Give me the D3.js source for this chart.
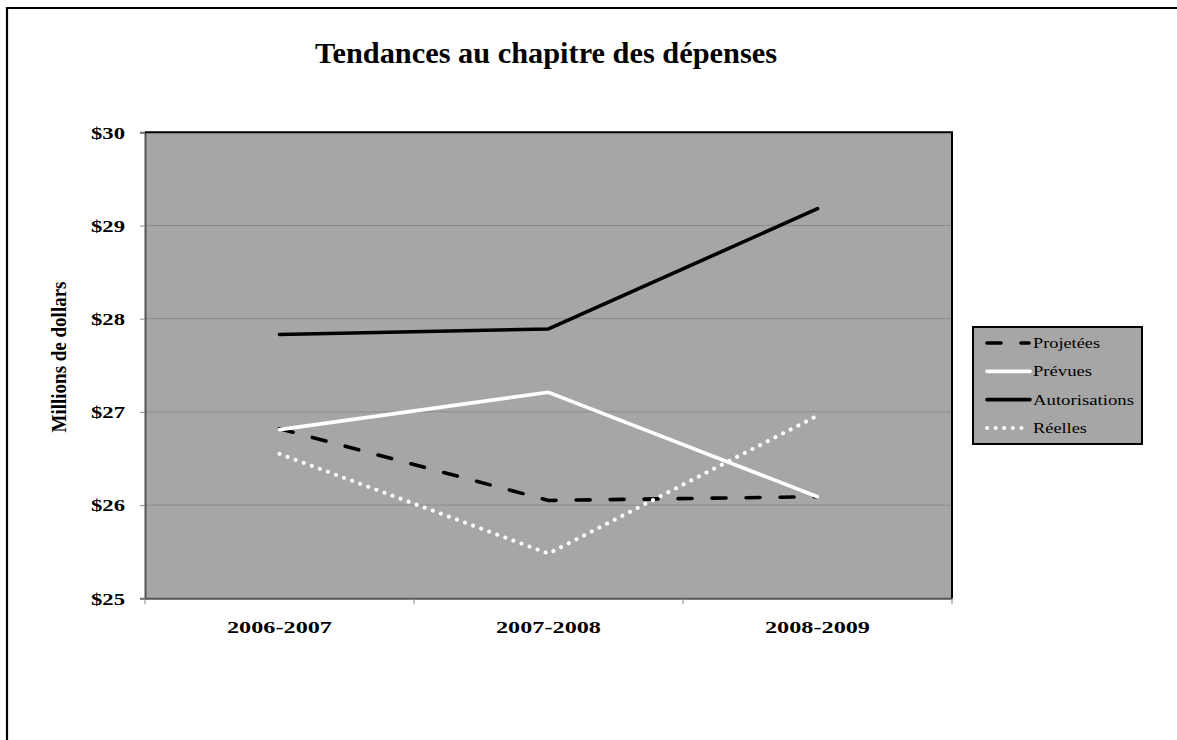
<!DOCTYPE html>
<html><head><meta charset="utf-8">
<script src="https://cdn.jsdelivr.net/npm/d3@7"></script>
<style>html,body{margin:0;padding:0;background:#fff;}svg{display:block;}</style>
</head><body>
<svg id="chart" width="1177" height="740"></svg>
<script>
const categories = ["2006-2007", "2007-2008", "2008-2009"];
const projetees = [26.82, 26.05, 26.09];
const prevues = [26.81, 27.21, 26.09];
const autorisations = [27.83, 27.89, 29.18];
const reelles = [26.55, 25.48, 26.96];
const yTicks = [25, 26, 27, 28, 29, 30];
const seriesNames = ["Projetées", "Prévues", "Autorisations", "Réelles"];
const titleText = "Tendances au chapitre des dépenses";
const yAxisTitle = "Millions de dollars";

const serif = "'Liberation Serif', 'Times New Roman', serif";
const svg = d3.select("#chart");
const W = 1177, H = 740;
const plot = {left: 145, right: 952, top: 132.3, bottom: 598.3};

// outer frame (left and top visible)
svg.append("path").attr("d", `M7,${H+5} L7,8 L${W+5},8`).attr("fill","none").attr("stroke","#000").attr("stroke-width",2.2);

const x = d3.scalePoint().domain(categories).range([plot.left, plot.right]).padding(0.5);
const xb = d3.scaleBand().domain(categories).range([plot.left, plot.right]);
const y = d3.scaleLinear().domain([25, 30]).range([plot.bottom, plot.top]);

// plot background
svg.append("rect").attr("x", plot.left).attr("y", plot.top)
  .attr("width", plot.right - plot.left).attr("height", plot.bottom - plot.top)
  .attr("fill", "#a6a6a6");

// gridlines
svg.append("g").selectAll("line").data(yTicks.filter(t => t > 25 && t < 30)).join("line")
  .attr("x1", plot.left).attr("x2", plot.right)
  .attr("y1", d => y(d)).attr("y2", d => y(d))
  .attr("stroke", "#8a8a8a").attr("stroke-width", 1);

// y axis
const yAxis = d3.axisLeft(y).tickValues(yTicks).tickSize(5).tickFormat(d => "$" + d);
const gy = svg.append("g").attr("transform", `translate(${plot.left},0)`).call(yAxis);
gy.select(".domain").attr("stroke", "#555").attr("stroke-width", 2);
gy.selectAll(".tick line").attr("stroke", "#888");
gy.selectAll(".tick text").attr("font-family", serif).attr("font-weight", "bold")
  .attr("font-size", 16).attr("fill", "#000").attr("x", -20).attr("dy", "0.36em")
  .attr("textLength", 34).attr("lengthAdjust", "spacingAndGlyphs");

// x axis with ticks at band boundaries
const xAxis = d3.axisBottom(xb).tickSize(0).tickSizeOuter(0).tickFormat("");
const gx = svg.append("g").attr("transform", `translate(0,${plot.bottom})`).call(xAxis);
gx.select(".domain").attr("stroke", "#555").attr("stroke-width", 2);
const bounds = categories.map(c => xb(c)).concat([plot.right]);
svg.append("g").selectAll("line").data(bounds).join("line")
  .attr("x1", d => d).attr("x2", d => d)
  .attr("y1", plot.bottom).attr("y2", plot.bottom + 6)
  .attr("stroke", "#888").attr("stroke-width", 1);
svg.append("g").selectAll("text").data(categories).join("text")
  .attr("x", d => x(d)).attr("y", 633).attr("text-anchor", "middle")
  .attr("font-family", serif).attr("font-weight", "bold").attr("font-size", 17)
  .attr("textLength", 105).attr("lengthAdjust", "spacingAndGlyphs")
  .text(d => d);

// top and right plot border
svg.append("path").attr("d", `M${plot.left},${plot.top} L${plot.right},${plot.top} L${plot.right},${plot.bottom}`)
  .attr("fill", "none").attr("stroke", "#000").attr("stroke-width", 2);

// series
const styles = [
  {data: projetees, color: "#000", dash: "14,20", cap: "round", w: 3.6},
  {data: prevues, color: "#fff", dash: null, cap: "round", w: 3.6},
  {data: autorisations, color: "#000", dash: null, cap: "round", w: 3.6},
  {data: reelles, color: "#fff", dash: "0.1,8.5", cap: "round", w: 4}
];
const line = d3.line().x((d, i) => x(categories[i])).y(d => y(d));
styles.forEach(s => {
  svg.append("path").datum(s.data).attr("d", line)
    .attr("fill", "none").attr("stroke", s.color).attr("stroke-width", s.w)
    .attr("stroke-linejoin", "round").attr("stroke-linecap", s.cap)
    .attr("stroke-dasharray", s.dash);
});

// title
svg.append("text").attr("x", 546).attr("y", 63).attr("text-anchor", "middle")
  .attr("font-family", serif).attr("font-weight", "bold").attr("font-size", 29)
  .attr("textLength", 462).attr("lengthAdjust", "spacingAndGlyphs")
  .text(titleText);

// y axis title
svg.append("text").attr("transform", "translate(66,357) rotate(-90)").attr("text-anchor", "middle")
  .attr("font-family", serif).attr("font-weight", "bold").attr("font-size", 22)
  .attr("textLength", 151).attr("lengthAdjust", "spacingAndGlyphs")
  .text(yAxisTitle);

// legend
const lg = svg.append("g");
lg.append("rect").attr("x", 973).attr("y", 327).attr("width", 169).attr("height", 117)
  .attr("fill", "#a6a6a6").attr("stroke", "#000").attr("stroke-width", 2);
const rowY = d3.scalePoint().domain(seriesNames).range([343, 428]);
const textLens = [67, 59, 101, 54];
seriesNames.forEach((n, i) => {
  const s = styles[i];
  const yy = rowY(n);
  lg.append("line").attr("x1", 987).attr("x2", i === 0 ? 1029 : 1030).attr("y1", yy).attr("y2", yy)
    .attr("stroke", s.color).attr("stroke-width", s.w).attr("stroke-linecap", s.cap)
    .attr("stroke-dasharray", s.dash);
  lg.append("text").attr("x", 1033).attr("y", yy + 5)
    .attr("font-family", serif).attr("font-size", 15)
    .attr("textLength", textLens[i]).attr("lengthAdjust", "spacingAndGlyphs")
    .text(n);
});
</script>
</body></html>
